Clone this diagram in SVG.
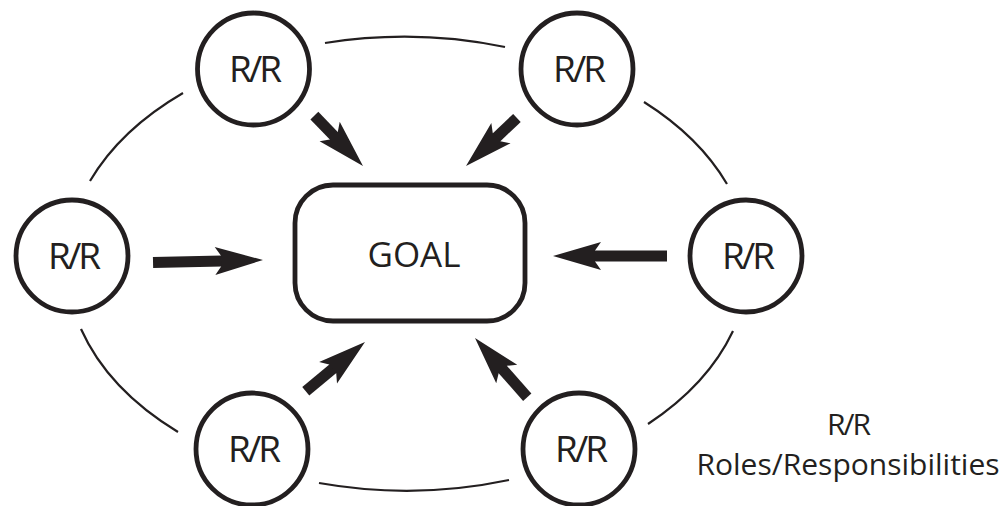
<svg xmlns="http://www.w3.org/2000/svg" xmlns:xlink="http://www.w3.org/1999/xlink" width="1006" height="506" viewBox="0 0 1006 506">
<style>
.node circle{fill:#fff;stroke:#231f20;stroke-width:4.8}
.goal rect{fill:#fff;stroke:#231f20;stroke-width:4.8}
.lbl{font-family:"Open Sans","Noto Sans","Liberation Sans",sans-serif;fill:#231f20;text-anchor:middle}
.rr{font-size:37px;letter-spacing:-3px}
.arc{fill:none;stroke:#231f20;stroke-width:2.2}
.shaft{stroke:#231f20;stroke-width:11}
.head{fill:#231f20}
</style>
<defs>
<path id="head" class="head" d="M0,0 L-48,-14 L-42,-5.5 L-42,5.5 L-48,14 Z"/>
</defs>
<rect width="1006" height="506" fill="#fff"/>
<g id="connectors">
<path class="arc" d="M325,43 A340,227 0 0 1 505,47"/>
<path class="arc" d="M644,102 A340,227 0 0 1 727,184"/>
<path class="arc" d="M733,331 A340,227 0 0 1 648,424"/>
<path class="arc" d="M509,480 A340,227 0 0 1 319,483"/>
<path class="arc" d="M178,432 A340,227 0 0 1 81,329"/>
<path class="arc" d="M90,181 A340,227 0 0 1 183,93"/>
<g transform="translate(263,260) rotate(-1.3)"><line class="shaft" x1="-110" y1="0" x2="-41" y2="0"/><use xlink:href="#head"/></g>
<g transform="translate(553,256) rotate(180)"><line class="shaft" x1="-114" y1="0" x2="-41" y2="0"/><use xlink:href="#head"/></g>
<g transform="translate(363,166) rotate(46)"><line class="shaft" x1="-70" y1="0" x2="-41" y2="0"/><use xlink:href="#head"/></g>
<g transform="translate(466,166) rotate(136.7)"><line class="shaft" x1="-70" y1="0" x2="-41" y2="0"/><use xlink:href="#head"/></g>
<g transform="translate(365,342) rotate(-39.7)"><line class="shaft" x1="-77" y1="0" x2="-41" y2="0"/><use xlink:href="#head"/></g>
<g transform="translate(475,338) rotate(-131.4)"><line class="shaft" x1="-79" y1="0" x2="-41" y2="0"/><use xlink:href="#head"/></g>
</g>
<g id="goal" class="goal">
<rect x="295" y="185" width="230" height="136" rx="38" ry="38"/>
<text class="lbl" x="414" y="267" font-size="35">GOAL</text>
</g>
<g id="rr-top-left" class="node"><circle cx="253.5" cy="69" r="56"/><text class="lbl rr" x="254" y="82">R/R</text></g>
<g id="rr-top-right" class="node"><circle cx="577" cy="69" r="56"/><text class="lbl rr" x="578" y="82">R/R</text></g>
<g id="rr-left" class="node"><circle cx="72" cy="256" r="56"/><text class="lbl rr" x="73" y="269">R/R</text></g>
<g id="rr-right" class="node"><circle cx="746" cy="256" r="56"/><text class="lbl rr" x="747" y="269">R/R</text></g>
<g id="rr-bottom-left" class="node"><circle cx="252" cy="449" r="56"/><text class="lbl rr" x="253" y="462">R/R</text></g>
<g id="rr-bottom-right" class="node"><circle cx="579" cy="449" r="56"/><text class="lbl rr" x="580" y="462">R/R</text></g>
<g id="legend">
<text class="lbl" x="848" y="435" font-size="30" letter-spacing="-2">R/R</text>
<text class="lbl" x="848" y="475" font-size="30">Roles/Responsibilities</text>
</g>
</svg>
